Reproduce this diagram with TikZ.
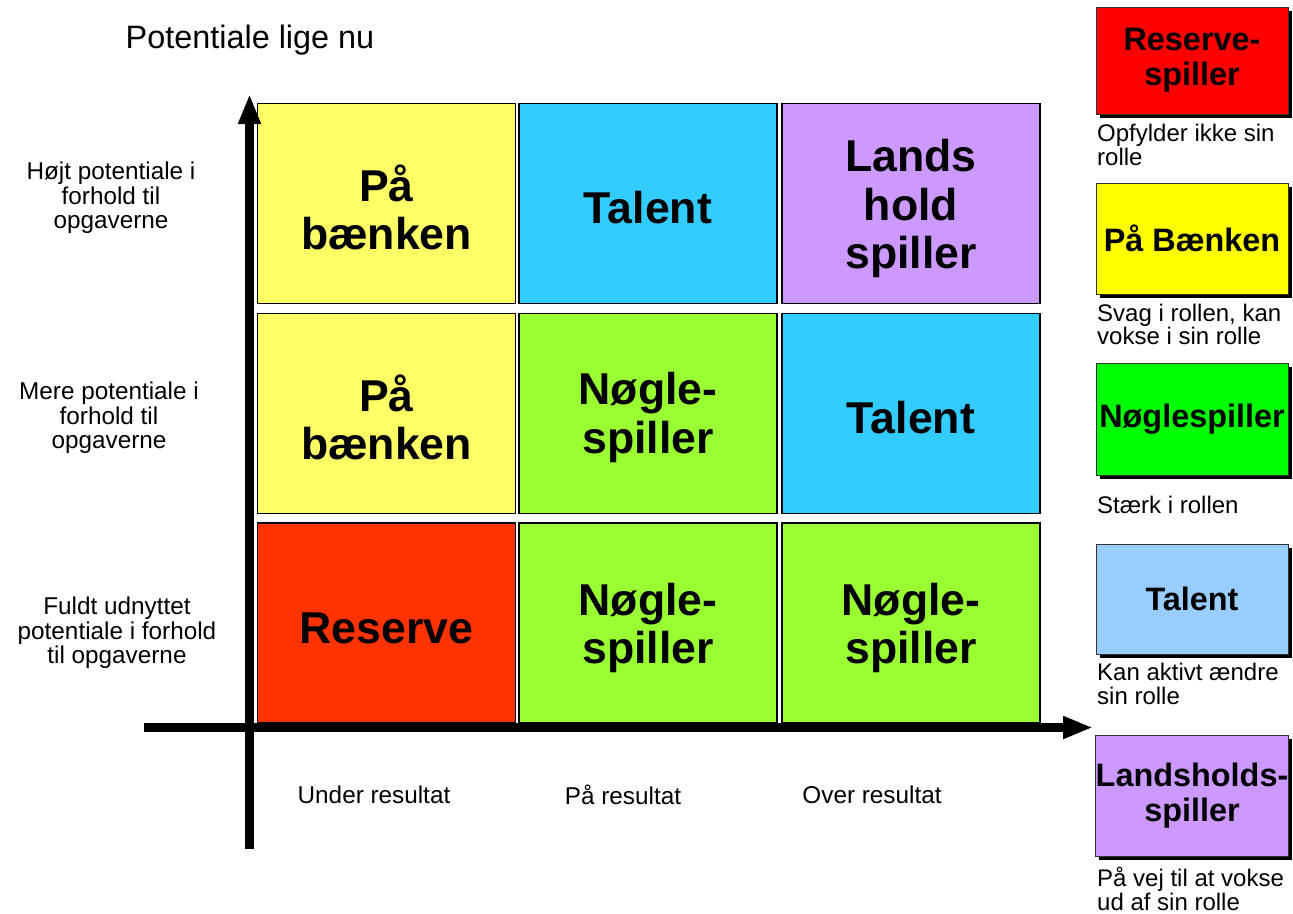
\documentclass[tikz,border=0pt]{standalone}
\usepackage{fontspec}
\setmainfont{Liberation Sans}
\usetikzlibrary{arrows.meta,shadows}
\definecolor{cyel}{HTML}{FFFF66}
\definecolor{cblu}{HTML}{33CCFF}
\definecolor{cpur}{HTML}{CC99FF}
\definecolor{cgrn}{HTML}{99FF33}
\definecolor{cred}{HTML}{FF3300}
\definecolor{lred}{HTML}{FF0000}
\definecolor{lyel}{HTML}{FFFF00}
\definecolor{lgrn}{HTML}{00FF00}
\definecolor{lblu}{HTML}{99CCFF}
\definecolor{lpur}{HTML}{CC99FF}
\begin{document}
\begin{tikzpicture}[x=1pt,y=-1pt,
  cell/.style={draw=black,line width=1.6pt,minimum width=258pt,minimum height=200pt,inner sep=0pt},
  celltxt/.style={align=center,inner sep=0pt,font=\bfseries\fontsize{44.6}{48.5}\selectfont},
  legbox/.style={draw=black!80,line width=0.8pt,minimum width=192pt,inner sep=0pt,align=center,
    font=\bfseries\fontsize{32.4}{35}\selectfont,
    drop shadow={shadow xshift=3.5pt,shadow yshift=-3.5pt,fill=black,opacity=1}},
  legcap/.style={anchor=west,align=left,inner sep=0pt,font=\fontsize{24}{23.5}\selectfont},
  rowlab/.style={align=center,inner sep=0pt,font=\fontsize{24.3}{24.3}\selectfont},
  collab/.style={inner sep=0pt,font=\fontsize{24.3}{24.3}\selectfont},
  axis/.style={line width=9pt,-{Triangle[length=30pt,width=21pt]}}]
\useasboundingbox (0,0) rectangle (1293,913);
% grid cells
\node[cell,fill=cyel] (c11) at (386.5,203.5) {};
\node[cell,fill=cblu] (c12) at (648,203.5) {};
\node[cell,fill=cpur] (c13) at (911,203.5) {};
\node[cell,fill=cyel] (c21) at (386.5,413.5) {};
\node[cell,fill=cgrn] (c22) at (648,413.5) {};
\node[cell,fill=cblu] (c23) at (911,413.5) {};
\node[cell,fill=cred] (c31) at (386.5,623) {};
\node[cell,fill=cgrn] (c32) at (648,623) {};
\node[cell,fill=cgrn] (c33) at (911,623) {};
\node[celltxt] (t11) at ([yshift=-4pt]c11.center) {På\\bænken};
\node[celltxt] (t12) at ([yshift=-4pt]c12.center) {Talent};
\node[celltxt] (t13) at ([yshift=-5pt]c13.center) {Lands\\hold\\spiller};
\node[celltxt] (t21) at ([yshift=-4pt]c21.center) {På\\bænken};
\node[celltxt] (t22) at ([yshift=-4pt]c22.center) {Nøgle-\\spiller};
\node[celltxt] (t23) at ([yshift=-4pt]c23.center) {Talent};
\node[celltxt] (t31) at ([yshift=-5pt]c31.center) {Reserve};
\node[celltxt] (t32) at ([yshift=-5pt]c32.center) {Nøgle-\\spiller};
\node[celltxt] (t33) at ([yshift=-5pt]c33.center) {Nøgle-\\spiller};
% axes
\coordinate (ybot) at (249.5,849);
\coordinate (ytop) at (249.5,94);
\coordinate (xleft) at (144,727.5);
\coordinate (xright) at (1093,727.5);
\draw[axis] (ybot) -- (ytop);
\draw[axis] (xleft) -- (xright);
% labels
\node[font=\fontsize{32.4}{34}\selectfont,inner sep=0pt] (title) at (250,40) {Potentiale lige nu};
\node[rowlab] (r1) at (111,198) {Højt potentiale i\\forhold til\\opgaverne};
\node[rowlab] (r2) at (109,418) {Mere potentiale i\\forhold til\\opgaverne};
\node[rowlab] (r3) at (117,633) {Fuldt udnyttet\\potentiale i forhold\\til opgaverne};
\node[collab] (k1) at (374,795) {Under resultat};
\node[collab] (k2) at (623,795) {På resultat};
\node[collab] (k3) at (872,795) {Over resultat};
% legend
\node[legbox,fill=lred,minimum height=107pt] (l1) at (1192,60.5) {Reserve-\\spiller};
\node[legbox,fill=lyel,minimum height=111pt] (l2) at (1192,238.5) {På Bænken};
\node[legbox,fill=lgrn,minimum height=112pt] (l3) at (1192,419) {Nøglespiller};
\node[legbox,fill=lblu,minimum height=110pt] (l4) at (1192,599) {Talent};
\node[legbox,fill=lpur,minimum height=121pt] (l5) at (1192,795.5) {Landsholds-\\spiller};
\node[legcap] (n1) at (1097,145) {Opfylder ikke sin\\rolle};
\node[legcap] (n2) at (1097,324.5) {Svag i rollen, kan\\vokse i sin rolle};
\node[legcap] (n3) at (1097,505) {Stærk i rollen};
\node[legcap] (n4) at (1097,684) {Kan aktivt ændre\\sin rolle};
\node[legcap] (n5) at (1097,889) {På vej til at vokse\\ud af sin rolle};
\end{tikzpicture}
\end{document}
